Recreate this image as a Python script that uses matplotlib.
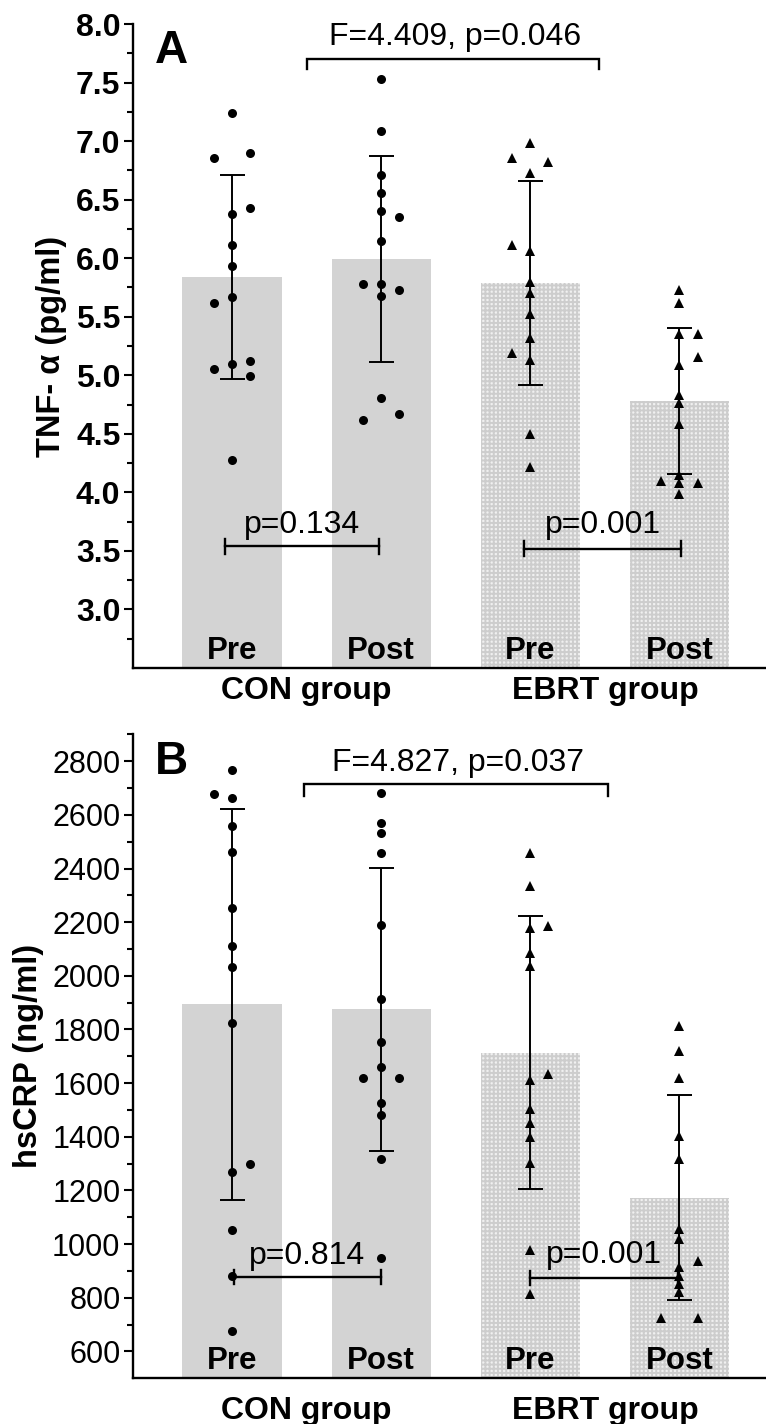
import matplotlib
matplotlib.use('Agg')
import matplotlib.pyplot as plt
from matplotlib.ticker import FixedLocator, FormatStrFormatter

plt.rcParams['font.family'] = ['Liberation Sans', 'DejaVu Sans']
plt.rcParams['hatch.linewidth'] = 1.4

# ---------------- data ----------------
conditions = ['Pre', 'Post', 'Pre', 'Post']
groups = ['CON group', 'EBRT group']

# Panel A : TNF-alpha (pg/ml)
tnf_mean = [5.84, 5.99, 5.79, 4.78]
tnf_sd = [0.87, 0.88, 0.87, 0.62]
tnf_con_pre = [7.24, 6.86, 6.90, 6.43, 6.38, 6.11, 5.93, 5.67, 5.62, 5.10, 5.05, 5.12, 4.99, 4.28]
tnf_con_pre_side = [0, -1, 1, 1, 0, 0, 0, 0, -1, 0, -1, 1, 1, 0]
tnf_con_post = [7.53, 7.09, 6.71, 6.56, 6.40, 6.35, 6.15, 5.78, 5.78, 5.73, 5.68, 4.81, 4.62, 4.67]
tnf_con_post_side = [0, 0, 0, 0, 0, 1, 0, -1, 0, 1, 0, 0, -1, 1]
tnf_ebrt_pre = [6.98, 6.86, 6.82, 6.73, 6.11, 6.06, 5.80, 5.70, 5.52, 5.32, 5.19, 5.13, 4.50, 4.22]
tnf_ebrt_pre_side = [0, -1, 1, 0, -1, 0, 0, 0, 0, 0, -1, 0, 0, 0]
tnf_ebrt_post = [5.73, 5.62, 5.35, 5.35, 5.16, 5.09, 4.83, 4.76, 4.58, 4.15, 4.10, 4.08, 4.08, 3.99]
tnf_ebrt_post_side = [0, 0, 0, 1, 1, 0, 0, 0, 0, 0, -1, 0, 1, 0]

# Panel B : hsCRP (ng/ml)
crp_mean = [1894, 1875, 1714, 1173]
crp_sd = [728, 527, 509, 381]
crp_con_pre = [2768, 2676, 2662, 2559, 2463, 2252, 2110, 2033, 1826, 1269, 1297, 1051, 881, 676]
crp_con_pre_side = [0, -1, 0, 0, 0, 0, 0, 0, 0, 0, 1, 0, 0, 0]
crp_con_post = [2683, 2569, 2533, 2456, 2191, 1913, 1753, 1660, 1618, 1618, 1525, 1480, 1319, 950]
crp_con_post_side = [0, 0, 0, 0, 0, 0, 0, 0, -1, 1, 0, 0, 0, 0]
crp_ebrt_pre = [2457, 2335, 2179, 2185, 2084, 2037, 1633, 1612, 1505, 1453, 1401, 1301, 980, 815]
crp_ebrt_pre_side = [0, 0, 0, 1, 0, 0, 1, 0, 0, 0, 0, 0, 0, 0]
crp_ebrt_post = [1813, 1720, 1620, 1403, 1316, 1055, 1018, 937, 915, 880, 850, 820, 726, 726]
crp_ebrt_post_side = [0, 0, 0, 0, 0, 0, 0, 1, 0, 0, 0, 0, -1, 1]

tnf_anova = 'F=4.409, p=0.046'
tnf_p = ['p=0.134', 'p=0.001']
crp_anova = 'F=4.827, p=0.037'
crp_p = ['p=0.814', 'p=0.001']

# ---------------- drawing ----------------
fig = plt.figure(figsize=(7.66, 14.24), dpi=100)
axA = fig.add_axes([0.1736, 0.5309, 0.8264, 0.4522])
axB = fig.add_axes([0.1736, 0.0321, 0.8264, 0.4522])

X = [0, 1, 2, 3]
BAR_W = 0.665
JIT = 0.121


def panel(ax, means, sds, pts, sides, ylim, major, minor, bold_ticks, fmt,
          ylabel, ylabel_x, letter, anova, anova_geom, pvals, pgeom, grp_y):
    ax.set_xlim(-0.664, 3.58)
    ax.set_ylim(*ylim)
    # bars
    for i in range(4):
        if i < 2:
            ax.bar(X[i], means[i], width=BAR_W, color='#d3d3d3', linewidth=0, zorder=1)
        else:
            ax.bar(X[i], means[i], width=BAR_W, facecolor='#f0f0f0', edgecolor='#cdcdcd',
                   linewidth=0, hatch='++++', zorder=1)
    # error bars
    ax.errorbar(X, means, yerr=sds, fmt='none', ecolor='black', elinewidth=1.4,
                capsize=9, capthick=1.4, zorder=3)
    # points
    for i in range(4):
        xs = [X[i] + s * JIT for s in sides[i]]
        mk = 'o' if i < 2 else '^'
        ax.plot(xs, pts[i], mk, color='black', ms=6.5, mew=0, zorder=4)

    # anova bracket
    (ax1, ax2, ay, adrop, aty) = anova_geom
    ax.plot([ax1, ax1, ax2, ax2], [adrop, ay, ay, adrop], color='black', lw=1.7,
            solid_joinstyle='miter', clip_on=False, zorder=5)
    ax.text((ax1 + ax2) / 2 + 0.015, aty, anova, ha='center', va='baseline', fontsize=23)

    # within-group p brackets
    for (x1, x2, y, d, ty), ptxt in zip(pgeom, pvals):
        ax.plot([x1, x2], [y, y], color='black', lw=1.7, zorder=5)
        ax.plot([x1, x1], [y - d, y + d], color='black', lw=1.7, zorder=5)
        ax.plot([x2, x2], [y - d, y + d], color='black', lw=1.7, zorder=5)
        ax.text((x1 + x2) / 2, ty, ptxt, ha='center', va='baseline', fontsize=23, zorder=6)

    # condition labels inside bars
    for i in range(4):
        ax.text(X[i], 0.014, conditions[i], transform=ax.get_xaxis_transform(),
                ha='center', va='baseline', fontsize=22.5, fontweight='bold', zorder=6)
    # group labels
    for gx, g in zip([0.5, 2.5], groups):
        ax.text(gx, grp_y, g, transform=ax.get_xaxis_transform(), ha='center',
                va='baseline', fontsize=23, fontweight='bold')

    # panel letter
    ax.text(0.035, 0.939, letter, transform=ax.transAxes, fontsize=33,
            fontweight='bold', va='baseline', ha='left')

    # axes styling
    for s in ['top', 'right']:
        ax.spines[s].set_visible(False)
    for s in ['left', 'bottom']:
        ax.spines[s].set_linewidth(1.7)
    ax.tick_params(axis='x', bottom=False, labelbottom=False)
    ax.yaxis.set_major_locator(major)
    ax.yaxis.set_minor_locator(minor)
    ax.tick_params(axis='y', which='major', length=6.5, width=1.5, pad=2.5,
                   labelsize=23 if bold_ticks else 22)
    ax.tick_params(axis='y', which='minor', length=4.3, width=1.5)
    ax.yaxis.set_major_formatter(FormatStrFormatter(fmt))
    if bold_ticks:
        for lab in ax.get_yticklabels():
            lab.set_fontweight('bold')
    ax.set_ylabel(ylabel, fontsize=23.5, fontweight='bold')
    ax.yaxis.set_label_coords(ylabel_x, 0.5)


panel(axA, tnf_mean, tnf_sd,
      [tnf_con_pre, tnf_con_post, tnf_ebrt_pre, tnf_ebrt_post],
      [tnf_con_pre_side, tnf_con_post_side, tnf_ebrt_pre_side, tnf_ebrt_post_side],
      (2.5, 8.0),
      FixedLocator([3.0, 3.5, 4.0, 4.5, 5.0, 5.5, 6.0, 6.5, 7.0, 7.5, 8.0]),
      FixedLocator([2.75, 3.25, 3.75, 4.25, 4.75, 5.25, 5.75, 6.25, 6.75, 7.25, 7.75]),
      True, '%.1f', 'TNF- α (pg/ml)', -0.104, 'A', tnf_anova,
      (0.503, 2.463, 7.70, 7.615, 7.82), tnf_p,
      [(-0.047, 0.987, 3.538, 0.064, 3.65), (1.96, 3.01, 3.52, 0.064, 3.65)],
      -0.048)

panel(axB, crp_mean, crp_sd,
      [crp_con_pre, crp_con_post, crp_ebrt_pre, crp_ebrt_post],
      [crp_con_pre_side, crp_con_post_side, crp_ebrt_pre_side, crp_ebrt_post_side],
      (500, 2900),
      FixedLocator(list(range(600, 2801, 200))),
      FixedLocator(list(range(700, 2901, 200))),
      False, '%d', 'hsCRP (ng/ml)', -0.141, 'B', crp_anova,
      (0.48, 2.52, 2714, 2671, 2764), crp_p,
      [(0.01, 1.0, 879, 26, 925), (2.0, 2.99, 875, 26, 929)],
      -0.063)

fig.savefig('out.png', dpi=100)
